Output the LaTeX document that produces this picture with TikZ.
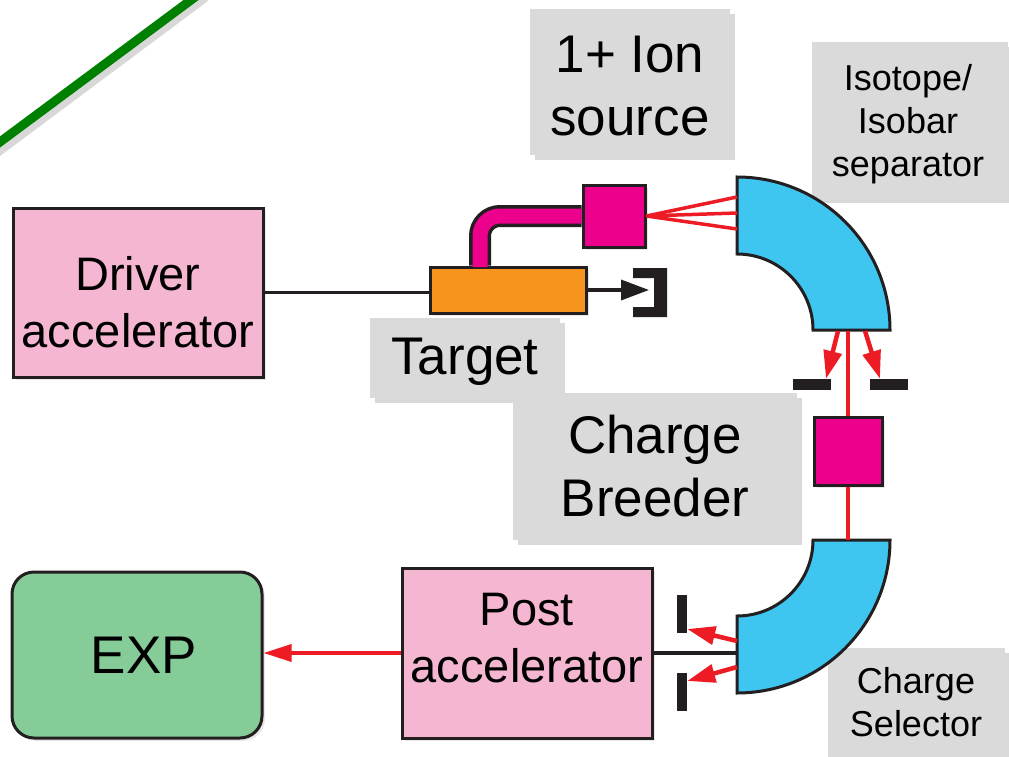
\documentclass[tikz,border=0pt]{standalone}
\usepackage{fontspec}
\setmainfont{Liberation Sans}
\usetikzlibrary{arrows.meta,shadows,backgrounds}
\definecolor{ink}{RGB}{35,31,32}
\definecolor{pinkbox}{RGB}{245,182,210}
\definecolor{magent}{RGB}{236,0,140}
\definecolor{orng}{RGB}{247,148,29}
\definecolor{cyanm}{RGB}{62,197,240}
\definecolor{expgreen}{RGB}{134,204,153}
\definecolor{beam}{RGB}{237,28,36}
\definecolor{lblgray}{RGB}{218,218,218}
\definecolor{leaf}{RGB}{0,128,0}
\begin{document}
\begin{tikzpicture}[x=1pt,y=-1pt,
  comp/.style={draw=ink,line width=3pt,inner sep=0pt,align=center,
    drop shadow={shadow xshift=3pt,shadow yshift=-3pt,opacity=.18}},
  bigtxt/.style={font=\fontsize{47}{57}\selectfont,align=center},
  lbl/.style={fill=lblgray,inner sep=0pt,align=center,
    drop shadow={shadow xshift=5pt,shadow yshift=-5pt,opacity=.3}},
  hugetxt/.style={font=\fontsize{53}{63}\selectfont},
  smalltxt/.style={font=\fontsize{36}{43}\selectfont},
  redline/.style={draw=beam,line width=3.5pt},
  redarrow/.style={draw=beam,line width=4.5pt,-{Triangle[length=28pt,width=18pt]}},
  slitbar/.style={fill=ink,inner sep=0pt},
  magnet/.style={fill=cyanm,draw=ink,line width=3pt,line join=miter},
  blackline/.style={draw=ink,line width=3.5pt},
]
\useasboundingbox (0,0) rectangle (1009,757);

% green diagonal
\draw[line width=10pt,black!30,opacity=.5] (-7,155) -- (205,-3);
\draw[line width=9pt,leaf] (-10,149.4) -- (201,-7.4);

% labels
\node[lbl,minimum width=200pt,minimum height=145pt,
  label={[hugetxt,align=center,yshift=-4pt]center:1+ Ion\\source}] (ionlbl) at (630,82) {};
\node[lbl,minimum width=196pt,minimum height=155pt,
  label={[smalltxt,align=center,yshift=-4pt,xshift=-2pt]center:Isotope/\\Isobar\\separator}] (isolbl) at (910,120) {};
\node[lbl,minimum width=190pt,minimum height=80pt,
  label={[font=\fontsize{53}{63}\selectfont,yshift=-4pt]center:Target}] (tgtlbl) at (465,358) {};
\node[lbl,hugetxt,minimum width=284pt,minimum height=147pt] (cblbl) at (655,466) {Charge\\Breeder};
\node[lbl,minimum width=177pt,minimum height=118pt,
  label={[smalltxt,align=center,yshift=5pt]center:Charge\\Selector}] (cslbl) at (916,707) {};

% magnets
\draw[magnet] (737,177) arc[start angle=90,end angle=0,radius=153pt] -- (813,330)
  arc[start angle=0,end angle=90,radius=76pt] -- cycle;
\coordinate (sepin1) at (737,197);
\coordinate (sepin2) at (737,213);
\coordinate (sepin3) at (737,229);
\coordinate (sepout) at (848,331);
\coordinate (sepoutL) at (838,331);
\coordinate (sepoutR) at (865,331);

\draw[magnet] (813,540) -- (890,540) arc[start angle=0,end angle=-90,radius=153pt] -- (737,616)
  arc[start angle=-90,end angle=0,radius=76pt] -- cycle;
\coordinate (selin) at (848,540);
\coordinate (selout) at (737,653);
\coordinate (seloutU) at (737,641);
\coordinate (seloutD) at (737,667);

% components
\node[comp,fill=pinkbox,minimum width=250pt,minimum height=169pt,
  label={[bigtxt,yshift=-10pt]center:Driver\\accelerator}] (driver) at (138,292.5) {};
\node[comp,fill=orng,minimum width=156pt,minimum height=46pt] (target) at (508,290) {};
\node[comp,fill=magent,minimum width=62pt,minimum height=62pt] (ionsrc) at (614,216) {};
\node[comp,fill=magent,minimum width=68pt,minimum height=68pt] (breeder) at (848,451) {};
\node[comp,fill=pinkbox,minimum width=250pt,minimum height=170pt,
  label={[bigtxt,yshift=15pt]center:Post\\accelerator}] (post) at (527,653) {};
\node[comp,fill=expgreen,rounded corners=22pt,minimum width=250pt,minimum height=166pt,
  label={[font=\fontsize{53}{63}\selectfont,xshift=7pt]center:EXP}] (exp) at (137,655) {};

% beam dump cup
\fill[ink] (633,268) -- (667,268) -- (667,317) -- (633,317) -- (633,307) -- (654,307)
  -- (654,278) -- (633,278) -- cycle;
\coordinate (cuptip) at (649,290);

% slits
\node[slitbar,minimum width=38pt,minimum height=11pt] (slitL) at (812,384.5) {};
\node[slitbar,minimum width=38pt,minimum height=11pt] (slitR) at (889,384.5) {};
\node[slitbar,minimum width=10pt,minimum height=38pt] (slitU) at (682,614) {};
\node[slitbar,minimum width=10pt,minimum height=38pt] (slitD) at (682,692) {};

% transfer pipe
\begin{scope}[on background layer]
\draw[ink,line width=22pt,rounded corners=20pt] ([xshift=-28pt]target.north) |- (ionsrc.west);
\end{scope}
\draw[magent,line width=15pt,rounded corners=20pt] ([xshift=-28pt,yshift=-1.5pt]target.north) |- (ionsrc.west);

% connectors
\draw[blackline] (driver.east) -- (driver.east -| target.west);
\draw[blackline,-{Triangle[length=28pt,width=20pt]}] (target.east) -- (cuptip);
\draw[redline] (ionsrc.east) -- (sepin1);
\draw[redline] (ionsrc.east) -- (sepin2);
\draw[redline] (ionsrc.east) -- (sepin3);
\draw[redline] (sepout) -- (breeder.north);
\draw[redarrow] (sepoutL) -- ([xshift=14pt]slitL.north);
\draw[redarrow] (sepoutR) -- ([xshift=-9pt]slitR.north);
\draw[redline] (breeder.south) -- (selin);
\draw[blackline] (selout) -- (selout -| post.east);
\draw[redarrow] (seloutU) -- ([yshift=-15pt]slitU.east);
\draw[redarrow] (seloutD) -- ([yshift=11pt]slitD.east);
\draw[beam,line width=3.5pt,-{Triangle[length=28pt,width=17pt]}] (post.west) -- (post.west -| exp.east);
\end{tikzpicture}
\end{document}
